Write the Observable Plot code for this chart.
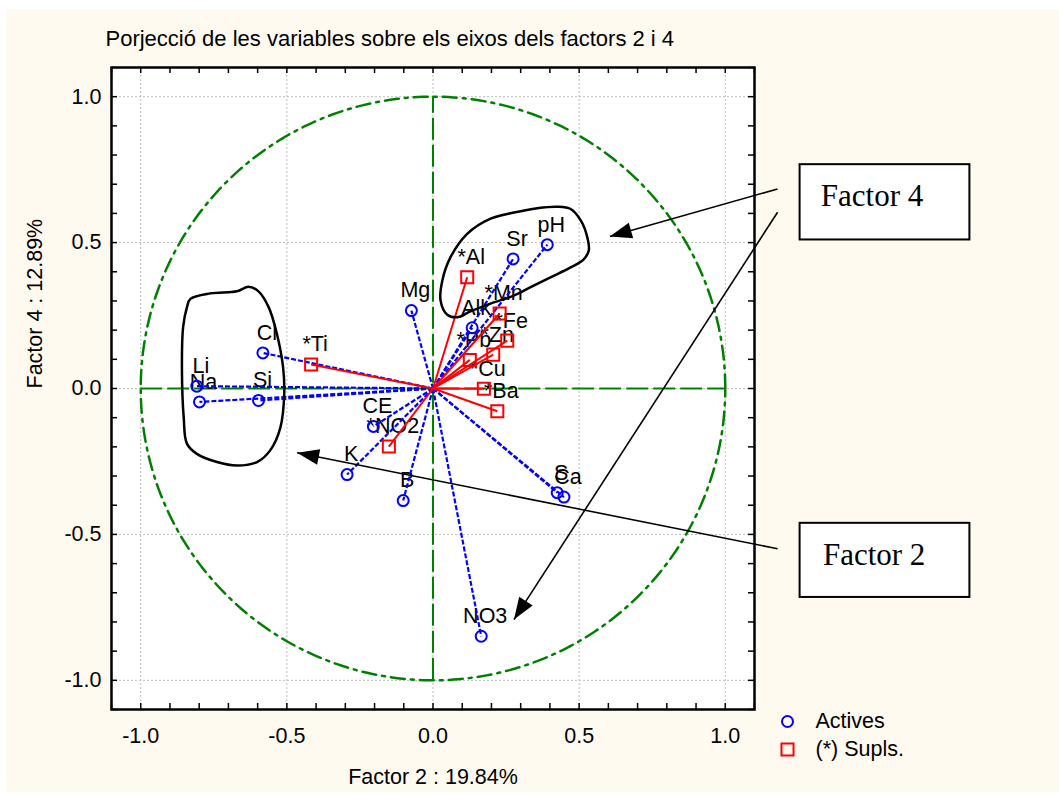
<!DOCTYPE html>
<html>
<head>
<meta charset="utf-8">
<script src="https://cdn.jsdelivr.net/npm/d3@7"></script>
<script src="https://cdn.jsdelivr.net/npm/@observablehq/plot@0.6"></script>
<style>
  html, body { margin: 0; padding: 0; background: #ffffff; }
  #chart { position: absolute; left: 6px; top: 9px; }
</style>
</head>
<body>
<div id="chart"></div>
<script>
// ---- Data ----
const title = "Porjecció de les variables sobre els eixos dels factors 2 i 4";
const xLabel = "Factor 2 : 19.84%";
const yLabel = "Factor 4 : 12.89%";

const activeNames = ["pH", "Sr", "Mg", "Alk", "Cl", "Li", "Na", "Si", "CE", "K", "B", "S", "Ca", "NO3"];
const activeF2 = [0.391, 0.274, -0.074, 0.134, -0.582, -0.808, -0.799, -0.597, -0.204, -0.294, -0.102, 0.425, 0.448, 0.165];
const activeF4 = [0.493, 0.444, 0.267, 0.208, 0.122, 0.008, -0.046, -0.041, -0.130, -0.295, -0.384, -0.357, -0.372, -0.849];

const supplNames = ["*Al", "*Mn", "*Fe", "*Zn", "*Pb", "*Cu", "*Ba", "*Ti", "*NO2"];
const supplF2 = [0.117, 0.228, 0.254, 0.206, 0.126, 0.174, 0.220, -0.417, -0.151];
const supplF4 = [0.381, 0.257, 0.164, 0.116, 0.098, -0.001, -0.078, 0.082, -0.199];

const majorTicks = [-1.0, -0.5, 0.0, 0.5, 1.0];
const minorTicks = d3.range(-11, 12).map(i => i / 10);
const axisExtent = [-1, 1];

// hand-drawn annotation loops (data units)
const loopLeftX = [-0.830, -0.762, -0.671, -0.631, -0.597, -0.562, -0.534, -0.513, -0.509, -0.522, -0.557, -0.602, -0.671, -0.739, -0.808, -0.842, -0.853, -0.859, -0.855, -0.842];
const loopLeftY = [0.307, 0.326, 0.333, 0.349, 0.333, 0.278, 0.187, 0.073, -0.018, -0.133, -0.212, -0.252, -0.264, -0.252, -0.224, -0.189, -0.098, 0.062, 0.210, 0.278];
const loopRightX = [0.026, 0.032, 0.060, 0.117, 0.197, 0.277, 0.357, 0.425, 0.471, 0.506, 0.528, 0.533, 0.515, 0.471, 0.402, 0.334, 0.276, 0.197, 0.128, 0.083, 0.049];
const loopRightY = [0.301, 0.370, 0.450, 0.530, 0.582, 0.603, 0.618, 0.623, 0.615, 0.575, 0.518, 0.473, 0.442, 0.415, 0.381, 0.347, 0.318, 0.291, 0.264, 0.244, 0.253];

// annotation arrows (from box to target)
const arrowStartX = [1.179, 1.179, 1.179];
const arrowStartY = [0.684, 0.604, -0.549];
const arrowTipX = [0.605, 0.277, -0.465];
const arrowTipY = [0.521, -0.792, -0.220];

// annotation boxes
const boxLabels = ["Factor 4", "Factor 2"];
const boxX1 = [1.256, 1.256];
const boxX2 = [1.837, 1.837];
const boxY1 = [0.767, -0.462];
const boxY2 = [0.509, -0.716];
const boxTextX = [1.327, 1.334];
const boxTextY = [0.661, -0.572];

// ---- Build tables ----
const actives = activeNames.map((n, i) => ({name: n, x: activeF2[i], y: activeF4[i]}));
const suppls = supplNames.map((n, i) => ({name: n, x: supplF2[i], y: supplF4[i]}));
const loopLeft = loopLeftX.map((x, i) => ({x, y: loopLeftY[i]}));
const loopRight = loopRightX.map((x, i) => ({x, y: loopRightY[i]}));
const arrows = arrowStartX.map((x, i) => ({
  x1: x, y1: arrowStartY[i], x2: arrowTipX[i], y2: arrowTipY[i],
  angle: Math.atan2(arrowTipX[i] - x, arrowTipY[i] - arrowStartY[i]) * 180 / Math.PI
}));
const boxes = boxLabels.map((t, i) => ({t, x1: boxX1[i], x2: boxX2[i], y1: boxY1[i], y2: boxY2[i], tx: boxTextX[i], ty: boxTextY[i]}));
const unitCircle = d3.range(0, 361, 1).map(a => ({x: Math.cos(a * Math.PI / 180), y: Math.sin(a * Math.PI / 180)}));

const W = 1053, H = 783;
const mL = 105, mR = 305, mT = 58, mB = 83;
const plotH = H - mT - mB;
const plotW = W - mL - mR;
const FONT = "'Liberation Sans', Arial, sans-serif";
const FS = 21.5;
const fmt = d => d.toFixed(1);

const chart = Plot.plot({
  width: W, height: H,
  marginLeft: mL, marginRight: mR, marginTop: mT, marginBottom: mB,
  style: {background: "#fffaf0", fontFamily: FONT, overflow: "visible"},
  x: {domain: [-1.1, 1.1]},
  y: {domain: [-1.1, 1.1]},
  marks: [
    Plot.frame({fill: "white", stroke: "none"}),
    // grid
    Plot.ruleX(majorTicks, {stroke: "#bdbdbd", strokeWidth: 1, strokeDasharray: "2,2"}),
    Plot.ruleY(majorTicks, {stroke: "#bdbdbd", strokeWidth: 1, strokeDasharray: "2,2"}),
    // correlation circle and axes
    Plot.line(unitCircle, {x: "x", y: "y", stroke: "#008000", strokeWidth: 2.5, strokeDasharray: "14,6,3,6"}),
    Plot.ruleY([0], {x1: axisExtent[0], x2: axisExtent[1], stroke: "#008000", strokeWidth: 2, strokeDasharray: "22,5"}),
    Plot.ruleX([0], {y1: axisExtent[0], y2: axisExtent[1], stroke: "#008000", strokeWidth: 2, strokeDasharray: "22,5"}),
    // labels (under the vectors)
    Plot.text(actives, {x: "x", y: "y", text: "name", dx: 4, dy: -20, fontSize: FS, fill: "black"}),
    Plot.text(suppls, {x: "x", y: "y", text: "name", dx: 4, dy: -20, fontSize: FS, fill: "black"}),
    // vectors
    Plot.link(actives, {x1: 0, y1: 0, x2: "x", y2: "y", stroke: "#0000ff", strokeWidth: 2.2, strokeDasharray: "5,2"}),
    Plot.link(suppls, {x1: 0, y1: 0, x2: "x", y2: "y", stroke: "#ff0000", strokeWidth: 2}),
    Plot.dot(actives, {x: "x", y: "y", r: 5.5, stroke: "#0000ff", strokeWidth: 2, fill: "none"}),
    Plot.dot(suppls, {x: "x", y: "y", r: 6.8, symbol: "square", stroke: "#ff0000", strokeWidth: 2, fill: "none"}),
    // hand drawn loops
    Plot.line(loopLeft, {x: "x", y: "y", curve: "catmull-rom-closed", stroke: "black", strokeWidth: 2.5}),
    Plot.line(loopRight, {x: "x", y: "y", curve: "catmull-rom-closed", stroke: "black", strokeWidth: 2.5}),
    // ticks (inside, all four sides)
    Plot.tickX(minorTicks, {x: d => d, insetTop: plotH - 6, stroke: "black", strokeWidth: 1.5}),
    Plot.tickX(minorTicks, {x: d => d, insetBottom: plotH - 6, stroke: "black", strokeWidth: 1.5}),
    Plot.tickY(minorTicks, {y: d => d, insetRight: plotW - 6, stroke: "black", strokeWidth: 1.5}),
    Plot.tickY(minorTicks, {y: d => d, insetLeft: plotW - 6, stroke: "black", strokeWidth: 1.5}),
    Plot.frame({stroke: "black", strokeWidth: 2.5}),
    // axes
    Plot.axisX(majorTicks, {anchor: "bottom", tickSize: 0, tickPadding: 18, tickFormat: fmt, fontSize: FS, label: null, fill: "black"}),
    Plot.axisY(majorTicks, {anchor: "left", tickSize: 0, tickPadding: 10, tickFormat: fmt, fontSize: FS, label: null, fill: "black"}),
    Plot.text([xLabel], {frameAnchor: "bottom", lineAnchor: "middle", dy: 68, text: d => d, fontSize: FS, fill: "black"}),
    Plot.text([yLabel], {frameAnchor: "left", lineAnchor: "middle", dx: -76, rotate: -90, text: d => d, fontSize: FS, fill: "black"}),
    Plot.text([title], {frameAnchor: "top-left", lineAnchor: "middle", textAnchor: "start", dx: -6, dy: -29, text: d => d, fontSize: 22, fill: "black"}),
    // legend
    Plot.dot([0], {frameAnchor: "bottom-right", dx: 33, dy: 12, r: 5.5, stroke: "#0000ff", strokeWidth: 2, fill: "none"}),
    Plot.dot([0], {frameAnchor: "bottom-right", dx: 33, dy: 40, r: 6.8, symbol: "square", stroke: "#ff0000", strokeWidth: 2, fill: "none"}),
    Plot.text(["Actives"], {frameAnchor: "bottom-right", lineAnchor: "middle", dx: 61, dy: 12, textAnchor: "start", text: d => d, fontSize: FS, fill: "black"}),
    Plot.text(["(*) Supls."], {frameAnchor: "bottom-right", lineAnchor: "middle", dx: 61, dy: 40, textAnchor: "start", text: d => d, fontSize: FS, fill: "black"}),
    // annotation boxes and arrows
    Plot.rect(boxes, {x1: "x1", x2: "x2", y1: "y1", y2: "y2", fill: "white", stroke: "black", strokeWidth: 2}),
    Plot.text(boxes, {x: "tx", y: "ty", text: "t", textAnchor: "start", fontFamily: "'Liberation Serif', 'Times New Roman', serif", fontSize: 31, fill: "black"}),
    Plot.link(arrows, {x1: "x1", y1: "y1", x2: "x2", y2: "y2", stroke: "black", strokeWidth: 1.6}),
    Plot.vector(arrows, {x: "x2", y: "y2", rotate: "angle", length: 22, r: 8, shape: "spike", anchor: "end", fill: "black", stroke: "none"})
  ]
});
document.getElementById("chart").appendChild(chart);
</script>
</body>
</html>
